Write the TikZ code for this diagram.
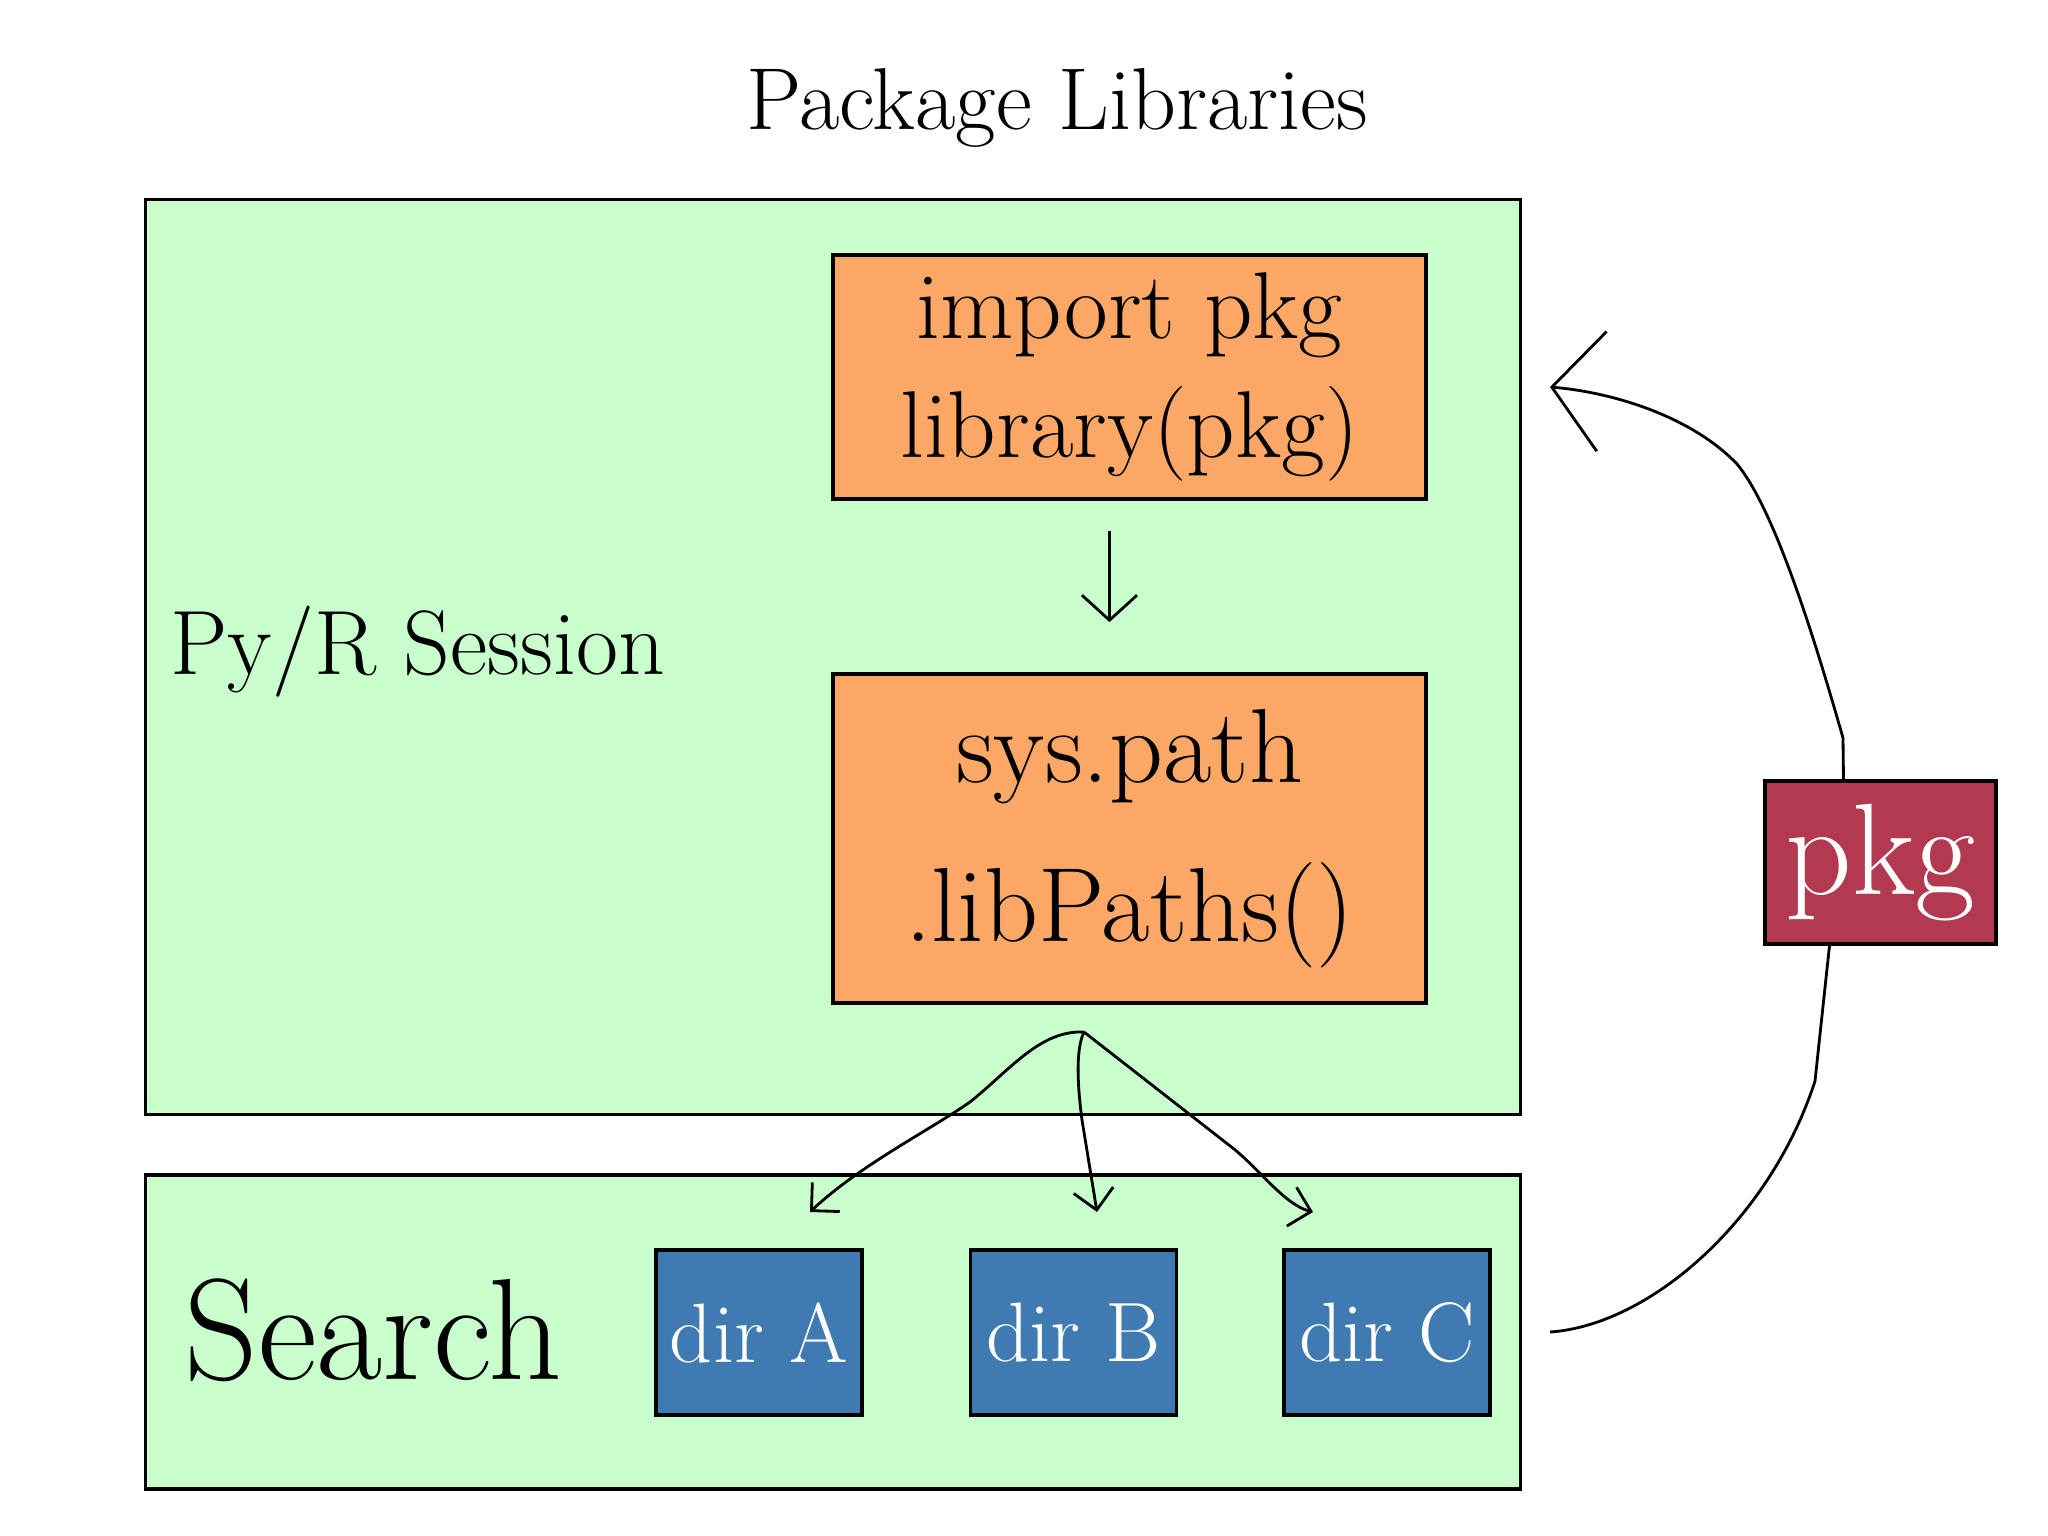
\documentclass[tikz,border=0pt]{standalone}
\usepackage{tikz}
\usetikzlibrary{arrows.meta}
\definecolor{sessgreen}{HTML}{C9FFCC}
\definecolor{codeorange}{HTML}{FBA867}
\definecolor{dirblue}{HTML}{3F7AB0}
\definecolor{pkgred}{HTML}{B33950}

\begin{document}
\begin{tikzpicture}[x=0.01cm, y=-0.01cm]
    \tikzstyle{area box} = [draw, line width=1pt, fill=sessgreen, inner sep=0pt, minimum width=13.74cm]
    \tikzstyle{code box} = [draw, line width=1pt, fill=codeorange, inner sep=0pt, minimum width=5.93cm, align=center]
    \tikzstyle{dir box} = [draw, line width=1pt, fill=dirblue, text=white, inner sep=0pt, minimum width=2.06cm, minimum height=1.65cm, font=\fontsize{24}{30}\selectfont]
    \tikzstyle{flow} = [draw, line width=0.8pt]
    \useasboundingbox (0,0) rectangle (2048,1536);

      \node[area box, minimum height=9.14cm] (session) at (833,657) {};
      \node[area box, minimum height=3.14cm] (search)  at (833,1332) {};

      \node at (1057,108) {\fontsize{25}{30}\selectfont Package Libraries};
      \node[anchor=west] (sesslbl) at (158,652) {\fontsize{26}{32}\selectfont Py/R Session};
      \node[anchor=west] (searchlbl) at (172,1330) {\fontsize{41}{46}\selectfont Search};

      \node[code box, minimum height=2.44cm, font=\fontsize{27}{34}\selectfont] (import)  at (1129.5,377) {import pkg\\library(pkg)};
      \node[code box, minimum height=3.29cm, font=\fontsize{30}{45}\selectfont] (syspath) at (1129.5,838.5) {sys.path\\.libPaths()};

      \node[dir box] (dirA) at (759,1332.5)  {dir A};
      \node[dir box] (dirB) at (1073.5,1332.5) {dir B};
      \node[dir box] (dirC) at (1387,1332.5)  {dir C};

      \node[draw, line width=1pt, fill=pkgred, text=white, inner sep=0pt, minimum width=2.31cm, minimum height=1.63cm, font=\fontsize{37}{40}\selectfont] (pkg) at (1880.5,862.5) {pkg};

      \coordinate (fan)    at (1084,1032);
      \coordinate (tipA)   at (810,1212);
      \coordinate (tipB)   at (1097,1212);
      \coordinate (tipC)   at (1313,1212);
      \coordinate (sessin) at (1550,387);

      \draw[flow, -{Straight Barb[length=2.5mm,width=5.5mm]}] ([xshift=-2mm,yshift=-3mm]import.south) -- ([xshift=-2mm,yshift=5mm]syspath.north);

      \draw[flow, -{Straight Barb[length=2mm,width=4mm]}] (fan) .. controls (1040,1030) and (1010,1070) .. (970,1102) .. controls (930,1130) and (860,1165) .. (tipA);
      \draw[flow, -{Straight Barb[length=2mm,width=4mm]}] (fan) .. controls (1075,1050) and (1078,1090) .. (1082,1120) -- (tipB);
      \draw[flow, -{Straight Barb[length=2mm,width=4mm]}] (fan) -- (1234,1149) .. controls (1260,1170) and (1285,1205) .. (tipC);

      \draw[flow] ([xshift=2.8mm]search.east) .. controls (1650,1325) and (1770,1220) .. (1815,1081) -- ([xshift=-5.1mm]pkg.south);
      \draw[flow, -{Straight Barb[length=5mm,width=12mm]}] ([xshift=-3.7mm]pkg.north) -- (1843,738) .. controls (1815,640) and (1775,510) .. (1737,464) .. controls (1690,415) and (1610,392) .. (sessin);
    \end{tikzpicture}
\end{document}
